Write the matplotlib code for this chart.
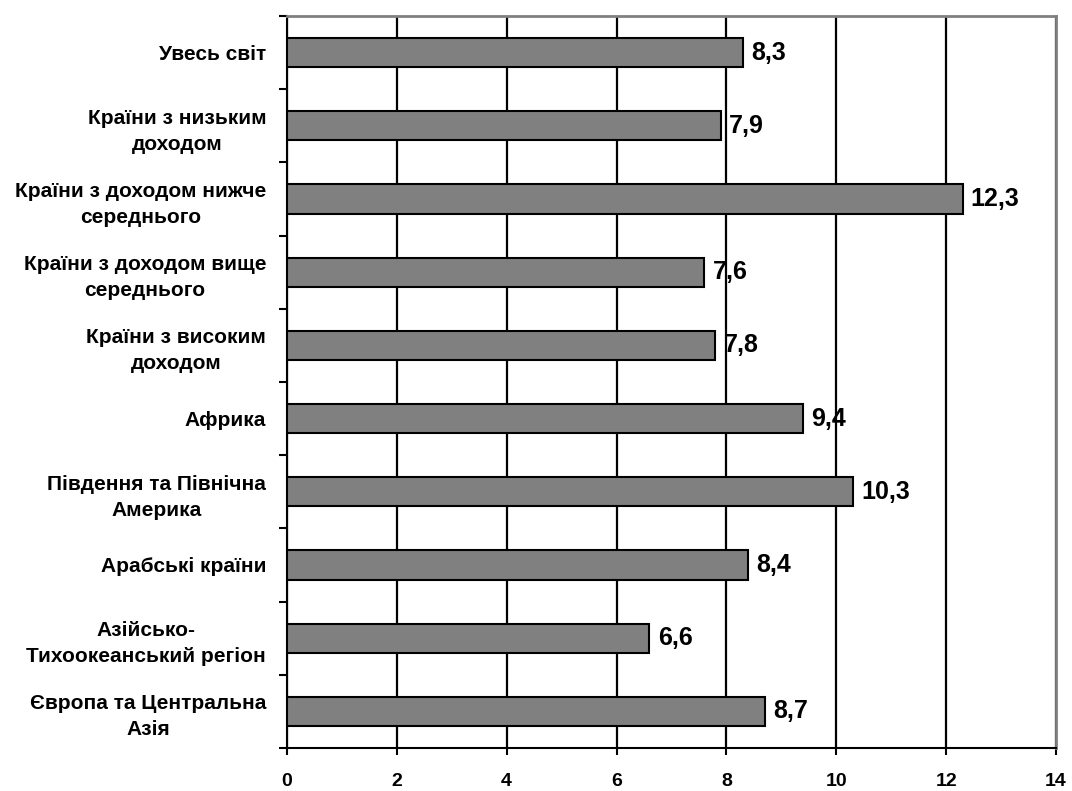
import matplotlib.pyplot as plt
import numpy as np

plt.rcParams['font.family'] = ['Liberation Sans', 'DejaVu Sans']
plt.rcParams['font.weight'] = 'bold'

labels = ['Увесь світ', 'Країни з низьким\nдоходом', 'Країни з доходом нижче\nсереднього',
          'Країни з доходом вище\nсереднього', 'Країни з високим\nдоходом', 'Африка',
          'Південня та Північна\nАмерика', 'Арабські країни', 'Азійсько-\nТихоокеанський регіон',
          'Європа та Центральна\nАзія']
values = [8.3, 7.9, 12.3, 7.6, 7.8, 9.4, 10.3, 8.4, 6.6, 8.7]

fig = plt.figure(figsize=(10.72, 7.91), dpi=100)
ax = fig.add_axes([0.2677, 0.0544, 0.985 - 0.2677, 0.9798 - 0.0544])

y = np.arange(len(values))
ax.barh(y, values, height=0.4, color='#808080', edgecolor='black', linewidth=1.5, zorder=3)
for yi, v in zip(y, values):
    ax.text(v + 0.15, yi, f'{v:.1f}'.replace('.', ','), va='center', ha='left',
            fontsize=18, fontweight='bold', zorder=4)

ax.set_xlim(0, 14)
ax.set_ylim(len(values) - 0.5, -0.5)
ax.set_xticks(np.arange(0, 15, 2))
ax.set_xticklabels([str(t) for t in range(0, 15, 2)], fontsize=14, fontweight='bold')
ax.tick_params(axis='x', direction='out', length=5, width=1.5, pad=13)

ax.set_yticks(np.arange(-0.5, len(values), 1))
ax.set_yticklabels([])
ax.set_yticks(y, minor=True)
ax.set_yticklabels(labels, minor=True, fontsize=15, fontweight='bold',
                   multialignment='center', linespacing=1.45)
ax.tick_params(axis='y', which='major', direction='out', length=6, width=1.5)
ax.tick_params(axis='y', which='minor', length=0, pad=15)

ax.grid(axis='x', color='black', linewidth=1.6, zorder=0)
ax.set_axisbelow(True)
for s in ['left', 'bottom']:
    ax.spines[s].set_color('black')
    ax.spines[s].set_linewidth(1.5)
for s in ['top', 'right']:
    ax.spines[s].set_color('#808080')
    ax.spines[s].set_linewidth(2)

plt.savefig('out.png', dpi=100)
